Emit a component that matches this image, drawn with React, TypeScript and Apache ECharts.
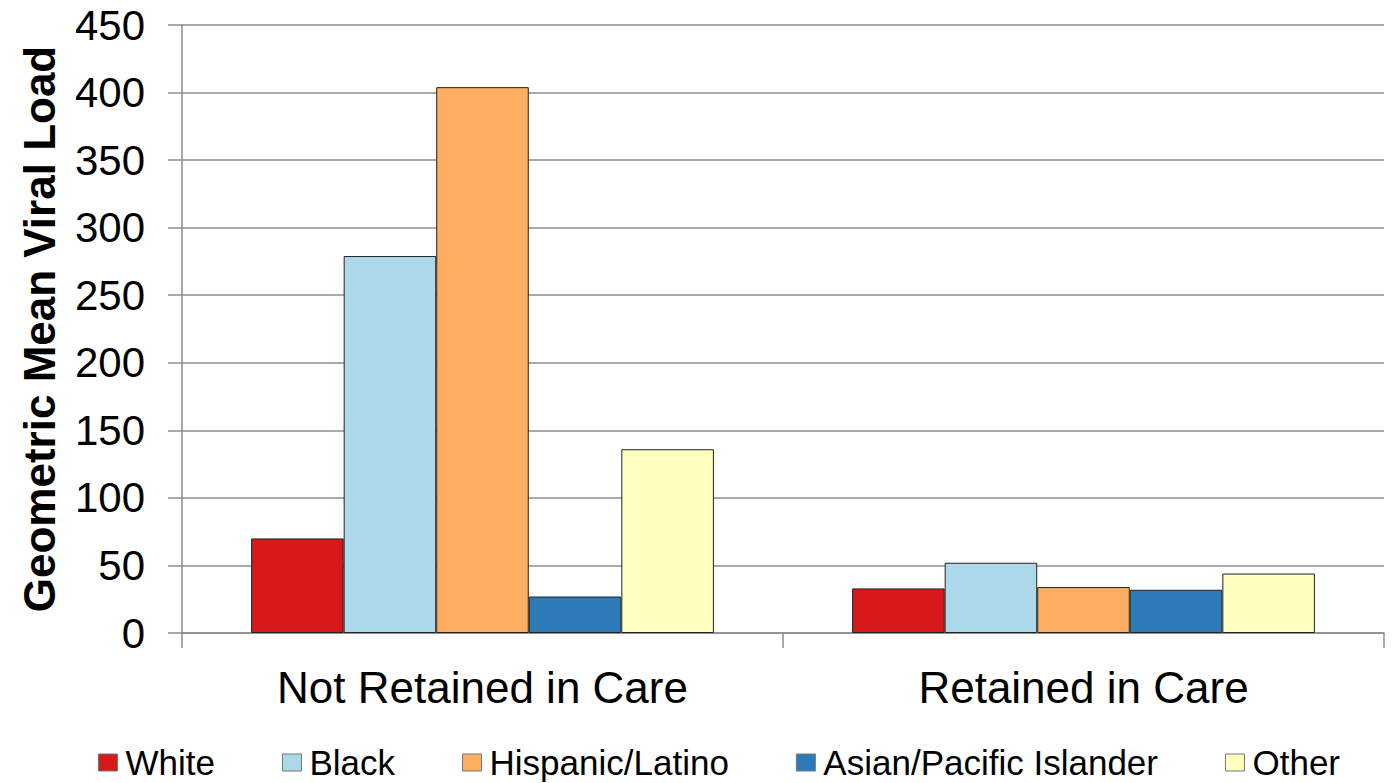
import React, { useEffect, useRef } from "react";
import * as echarts from "echarts";

const categories = ["Not Retained in Care", "Retained in Care"];
const seriesNames = ["White", "Black", "Hispanic/Latino", "Asian/Pacific Islander", "Other"];
const seriesColors = ["#D7191C", "#ABD9E9", "#FDAE61", "#2C7BB6", "#FFFFBF"];
const whiteValues = [70, 33];
const blackValues = [279, 52];
const hispanicValues = [404, 34];
const asianValues = [27, 32];
const otherValues = [136, 44];
const yTicks = [0, 50, 100, 150, 200, 250, 300, 350, 400, 450];

const allValues = [whiteValues, blackValues, hispanicValues, asianValues, otherValues];

export default function App() {
  const ref = useRef<HTMLDivElement>(null);
  useEffect(() => {
    if (!ref.current) return;
    const chart = echarts.init(ref.current, undefined, { renderer: "svg" });
    const font = "'Liberation Sans', Arial, sans-serif";
    chart.setOption({
      animation: false,
      backgroundColor: "#ffffff",
      textStyle: { fontFamily: font, color: "#000" },
      grid: { left: 182, right: 10, top: 25, bottom: 150, containLabel: false },
      legend: {
        data: seriesNames,
        left: 98,
        top: 745,
        padding: 0,
        icon: "rect",
        itemWidth: 19,
        itemHeight: 17,
        itemGap: 67,
        textStyle: { fontSize: 35, lineHeight: 34, fontFamily: font, color: "#000", padding: [0, 0, 0, 3] },
        itemStyle: { borderColor: "#777", borderWidth: 1 },
      },
      xAxis: {
        type: "category",
        data: categories,
        axisLine: { show: true, lineStyle: { color: "#8c8c8c", width: 1.5 } },
        axisTick: { show: true, length: 15, lineStyle: { color: "#8c8c8c", width: 1.5 } },
        axisLabel: { fontSize: 44, fontFamily: font, color: "#000", margin: 32 },
      },
      yAxis: {
        type: "value",
        min: yTicks[0],
        max: yTicks[yTicks.length - 1],
        interval: 50,
        name: "Geometric Mean Viral Load",
        nameLocation: "middle",
        nameGap: 121,
        nameTextStyle: { fontSize: 44, fontWeight: "bold", fontFamily: font, color: "#000" },
        axisLine: { show: true, lineStyle: { color: "#8c8c8c", width: 1.5 } },
        axisTick: { show: true, length: 14, lineStyle: { color: "#8c8c8c", width: 1.5 } },
        axisLabel: { fontSize: 42, fontFamily: font, color: "#000", margin: 37 },
        splitLine: { show: true, lineStyle: { color: "#8c8c8c", width: 1.5 } },
      },
      series: seriesNames.map((name, i) => ({
        name,
        type: "bar",
        data: allValues[i],
        barGap: "0%",
        barCategoryGap: "23%",
        itemStyle: { color: seriesColors[i], borderColor: "#222", borderWidth: 1 },
      })),
    });
    return () => chart.dispose();
  }, []);
  return (
    <div
      ref={ref}
      style={{ position: "fixed", left: 0, top: 0, width: 1394, height: 783 }}
    />
  );
}
